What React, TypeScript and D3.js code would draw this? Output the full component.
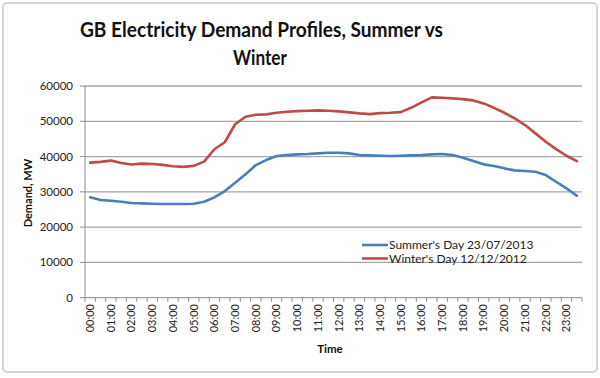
import React from "react";
import * as d3 from "d3";

const times = [
  "00:00","00:30","01:00","01:30","02:00","02:30","03:00","03:30","04:00","04:30","05:00","05:30",
  "06:00","06:30","07:00","07:30","08:00","08:30","09:00","09:30","10:00","10:30","11:00","11:30",
  "12:00","12:30","13:00","13:30","14:00","14:30","15:00","15:30","16:00","16:30","17:00","17:30",
  "18:00","18:30","19:00","19:30","20:00","20:30","21:00","21:30","22:00","22:30","23:00","23:30",
];

const summer = [
  28440,27680,27480,27200,26830,26740,26630,26540,26540,26540,26630,27200,
  28440,30230,32580,34960,37590,39010,40140,40420,40620,40710,40900,41080,
  41080,40900,40420,40330,40230,40140,40230,40330,40420,40620,40710,40420,
  39660,38720,37790,37310,36660,36090,35890,35690,34760,32860,30990,28900,
];

const winter = [
  38290,38500,38860,38200,37730,38000,37900,37640,37260,37070,37360,38570,
  42080,44060,49160,51300,51840,51950,52410,52690,52890,53000,53090,53000,
  52800,52520,52240,52040,52320,52410,52600,53820,55350,56770,56660,56490,
  56290,55920,55070,53820,52410,50820,48920,46570,44190,42120,40230,38730,
];

const yTicks = [0, 10000, 20000, 30000, 40000, 50000, 60000];

const seriesNames = ["Summer's Day 23/07/2013", "Winter's Day 12/12/2012"];
const seriesColors = ["#4a7ebb", "#be4b48"];

export default function App() {
  const W = 600, H = 378;
  const left = 85, right = 582, top = 86, bottom = 297.7;

  const x = d3.scaleBand<string>().domain(times).range([left, right]).padding(0);
  const y = d3.scaleLinear().domain([0, 60000]).range([bottom, top]);
  const cx = (i: number) => (x(times[i]) as number) + x.bandwidth() / 2;

  const line = d3.line<number>().x((_, i) => cx(i)).y((v) => y(v));

  const font = "Lato, 'Open Sans', sans-serif";
  const series = [summer, winter];

  return (
    <div style={{ position: "absolute", left: 0, top: 0 }}>
      <svg width={W} height={H} style={{ display: "block", background: "#fff" }}>
        <rect x={3} y={3} width={594} height={369} rx={4} fill="#fff" stroke="#c8c8c8" strokeWidth={1.5} />
        <text x={261.5} y={37} textAnchor="middle" fontFamily={font} fontWeight="bold" fontSize={20.5} fill="#111"
          textLength={363} lengthAdjust="spacingAndGlyphs">
          GB Electricity Demand Profiles, Summer vs
        </text>
        <text x={260} y={65} textAnchor="middle" fontFamily={font} fontWeight="bold" fontSize={20.5} fill="#111"
          textLength={54} lengthAdjust="spacingAndGlyphs">
          Winter
        </text>

        {yTicks.map((t) => (
          <g key={t}>
            {t > 0 && (
              <line x1={left} x2={right} y1={y(t)} y2={y(t)} stroke="#a6a6a6" strokeWidth={1.3} />
            )}
            <line x1={left - 5} x2={left} y1={y(t)} y2={y(t)} stroke="#8c8c8c" strokeWidth={1} />
            <text x={73} y={y(t)} dy="0.35em" textAnchor="end" fontFamily={font} fontSize={11.5} fill="#222">
              {t}
            </text>
          </g>
        ))}

        <line x1={left} x2={left} y1={top} y2={bottom} stroke="#8c8c8c" strokeWidth={1} />
        <line x1={left} x2={right} y1={bottom} y2={bottom} stroke="#8c8c8c" strokeWidth={1} />
        {times.map((t) => (
          <line key={"tk" + t} x1={x(t) as number} x2={x(t) as number} y1={bottom} y2={bottom + 4} stroke="#8c8c8c" strokeWidth={1} />
        ))}
        <line x1={right} x2={right} y1={bottom} y2={bottom + 4} stroke="#8c8c8c" strokeWidth={1} />
        {times.map((t, i) =>
          i % 2 === 0 ? (
            <text
              key={"lb" + t}
              transform={`translate(${cx(i)},304) rotate(-90)`}
              textAnchor="end"
              dy="0.35em"
              fontFamily={font}
              fontSize={11}
              fill="#222"
            >
              {t}
            </text>
          ) : null
        )}

        <text x={330} y={353} textAnchor="middle" fontFamily={font} fontWeight="bold" fontSize={11.5} fill="#111">
          Time
        </text>
        <text
          transform={`translate(28,193) rotate(-90)`}
          textAnchor="middle"
          dy="0.35em"
          fontFamily={font}
          fontWeight="bold"
          fontSize={11}
          fill="#111"
        >
          Demand, MW
        </text>

        {series.map((s, k) => (
          <path key={k} d={line(s) as string} fill="none" stroke={seriesColors[k]} strokeWidth={2.6} strokeLinejoin="round" strokeLinecap="round" />
        ))}

        {seriesNames.map((n, k) => (
          <g key={n}>
            <line x1={362} x2={388} y1={245 + k * 13.5} y2={245 + k * 13.5} stroke={seriesColors[k]} strokeWidth={2.6} />
            <text x={389} y={245 + k * 13.5} dy="0.35em" fontFamily={font} fontSize={12} fill="#222">
              {n}
            </text>
          </g>
        ))}
      </svg>
    </div>
  );
}
